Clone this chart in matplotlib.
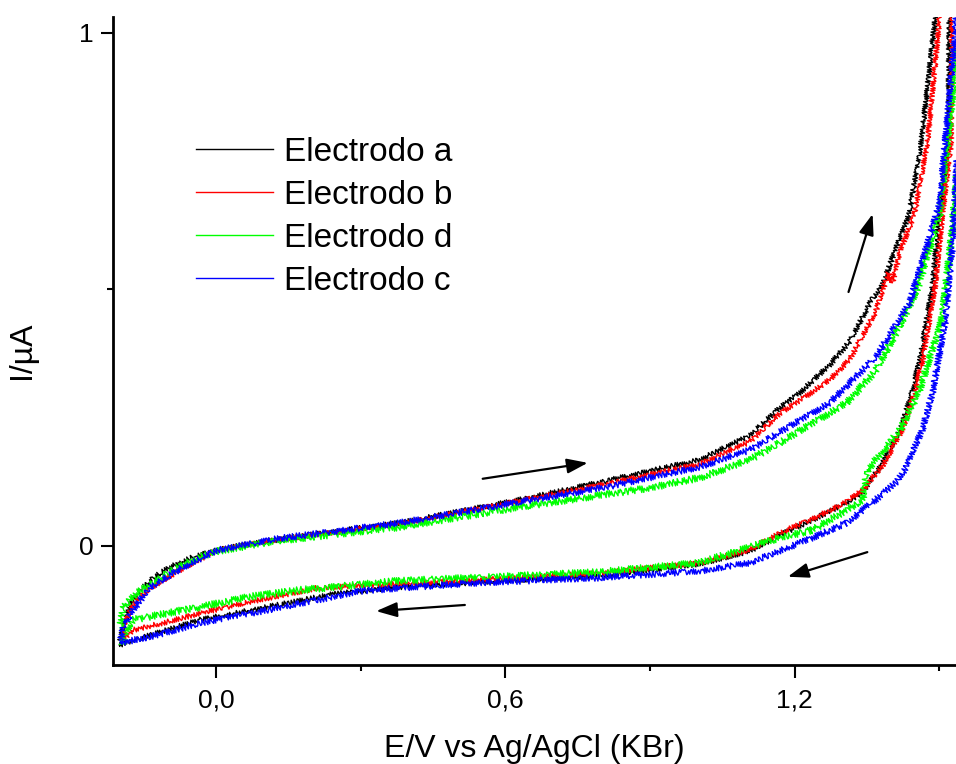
import numpy as np
import matplotlib
matplotlib.use("Agg")
import matplotlib.pyplot as plt
from matplotlib.lines import Line2D

plt.rcParams['font.family'] = ['Liberation Sans', 'DejaVu Sans']

# cyclic voltammograms: forward scan, vertex (off the top), reverse scan
E_a = [-0.201, -0.193, -0.178, -0.158, -0.131, -0.095, -0.048, 0.002, 0.056, 0.126, 0.189, 0.381,
       0.630, 0.810, 1.003, 1.107, 1.169, 1.210, 1.273, 1.314, 1.360, 1.382, 1.409, 1.438, 1.463,
       1.492, 1.56, 1.521, 1.519, 1.501, 1.486, 1.461, 1.443, 1.420, 1.382, 1.341, 1.308, 1.237,
       1.169, 1.107, 1.003, 0.796, 0.589, 0.381, 0.242, 0.106, -0.033, -0.137, -0.201]
I_a = [-0.193, -0.158, -0.115, -0.086, -0.062, -0.041, -0.021, -0.008, 0.002, 0.012, 0.021, 0.045,
       0.090, 0.127, 0.168, 0.215, 0.269, 0.298, 0.353, 0.398, 0.480, 0.507, 0.577, 0.647, 0.786,
       1.031, 1.5, 1.031, 0.786, 0.647, 0.507, 0.368, 0.298, 0.228, 0.160, 0.105, 0.084, 0.051,
       0.021, -0.010, -0.035, -0.058, -0.068, -0.080, -0.094, -0.119, -0.144, -0.174, -0.193]

E_b = [-0.195, -0.189, -0.172, -0.137, -0.068, 0.002, 0.126, 0.381, 0.630, 0.810, 1.003, 1.107,
       1.169, 1.210, 1.273, 1.314, 1.368, 1.395, 1.403, 1.420, 1.449, 1.476, 1.501, 1.56,
       1.527, 1.525, 1.507, 1.492, 1.467, 1.449, 1.424, 1.386, 1.341, 1.308, 1.237, 1.169, 1.107,
       1.003, 0.796, 0.589, 0.381, 0.209, 0.070, -0.033, -0.102, -0.172, -0.195]
I_b = [-0.183, -0.148, -0.115, -0.082, -0.043, -0.008, 0.012, 0.043, 0.088, 0.121, 0.160, 0.203,
       0.258, 0.283, 0.324, 0.363, 0.456, 0.532, 0.513, 0.577, 0.647, 0.786, 1.031, 1.5,
       1.031, 0.786, 0.647, 0.507, 0.368, 0.298, 0.228, 0.160, 0.109, 0.086, 0.053, 0.025, -0.008,
       -0.033, -0.053, -0.064, -0.074, -0.082, -0.109, -0.131, -0.148, -0.164, -0.183]

E_d = [-0.199, -0.193, -0.164, -0.102, -0.033, 0.002, 0.126, 0.381, 0.630, 0.761, 0.899, 1.003,
       1.107, 1.169, 1.308, 1.368, 1.424, 1.457, 1.501, 1.534, 1.57,
       1.546, 1.534, 1.523, 1.505, 1.457, 1.420, 1.397, 1.351, 1.341, 1.308, 1.237, 1.169, 1.003,
       0.796, 0.589, 0.381, 0.174, 0.070, -0.033, -0.102, -0.172, -0.189, -0.195]
I_d = [-0.160, -0.119, -0.092, -0.053, -0.021, -0.010, 0.010, 0.037, 0.076, 0.094, 0.113, 0.133,
       0.168, 0.201, 0.279, 0.341, 0.439, 0.507, 0.647, 0.926, 1.5,
       0.869, 0.688, 0.577, 0.439, 0.298, 0.228, 0.201, 0.148, 0.090, 0.070, 0.031, 0.016, -0.033,
       -0.051, -0.060, -0.068, -0.086, -0.099, -0.119, -0.131, -0.144, -0.168, -0.193]

E_c = [-0.199, -0.193, -0.172, -0.137, -0.068, 0.002, 0.126, 0.381, 0.630, 0.810, 1.003, 1.107,
       1.169, 1.273, 1.368, 1.438, 1.472, 1.501, 1.534, 1.56,
       1.538, 1.527, 1.513, 1.486, 1.465, 1.449, 1.432, 1.412, 1.376, 1.308, 1.237, 1.169, 1.107,
       1.003, 0.796, 0.589, 0.506, 0.381, 0.298, 0.242, 0.106, -0.033, -0.137, -0.199]
I_c = [-0.189, -0.158, -0.125, -0.080, -0.041, -0.008, 0.014, 0.045, 0.086, 0.115, 0.154, 0.187,
       0.222, 0.279, 0.368, 0.472, 0.577, 0.667, 1.008, 1.5,
       0.772, 0.577, 0.439, 0.298, 0.226, 0.193, 0.154, 0.125, 0.096, 0.045, 0.016, -0.010, -0.033,
       -0.049, -0.062, -0.070, -0.074, -0.082, -0.088, -0.099, -0.125, -0.150, -0.177, -0.189]

labels = ['Electrodo a', 'Electrodo b', 'Electrodo d', 'Electrodo c']
colors = ['black', 'red', '#00ff00', 'blue']
noise = [2.6, 2.6, 3.6, 3.2]

# scan direction arrows (tail, head)
arrows = [((1.312, 0.495), (1.362, 0.647)),
          ((0.553, 0.131), (0.771, 0.162)),
          ((1.351, -0.012), (1.186, -0.060)),
          ((0.516, -0.115), (0.332, -0.127))]

fig = plt.figure(figsize=(9.56, 7.64), dpi=100)
ax = fig.add_axes([113/956, 1-665/764, 843/956, 648/764])

series = [(E_a, I_a), (E_b, I_b), (E_d, I_d), (E_c, I_c)]
for (E, I), c, s in zip(series, colors, noise):
    ln, = ax.plot(E, I, color=c, lw=1.0)
    ln.set_sketch_params(scale=s, length=2.5, randomness=2)

for tail, head in arrows:
    ax.annotate('', xy=head, xytext=tail,
                arrowprops=dict(arrowstyle='-|>,head_length=0.7,head_width=0.25',
                                color='black', lw=1.6, mutation_scale=18,
                                shrinkA=0, shrinkB=0))

ax.set_xlim(-0.214, 1.535)
ax.set_ylim(-0.232, 1.031)

ax.spines['top'].set_visible(False)
ax.spines['right'].set_visible(False)
for sp in ['left', 'bottom']:
    ax.spines[sp].set_linewidth(2)

ax.set_xticks([0.0, 0.6, 1.2])
ax.set_xticklabels(['0,0', '0,6', '1,2'])
ax.set_xticks([0.3, 0.9, 1.5], minor=True)
ax.set_yticks([0, 1])
ax.set_yticklabels(['0', '1'])
ax.set_yticks([0.5], minor=True)
ax.tick_params(which='major', direction='out', length=9, width=1.5, labelsize=19)
ax.tick_params(axis='x', which='major', pad=8)
ax.tick_params(axis='y', which='major', pad=5)
ax.tick_params(which='minor', direction='out', length=4, width=1.5)

ax.set_xlabel('E/V vs Ag/AgCl (KBr)', fontsize=23)
ax.set_ylabel('I/µA', fontsize=23)
ax.xaxis.set_label_coords(0.5, -0.106)
ax.yaxis.set_label_coords(-0.090, 0.486)

handles = [Line2D([], [], color=c, lw=1.0) for c in colors]
ax.legend(handles, labels, loc='upper left', bbox_to_anchor=(0.0985, 0.815),
          frameon=False, fontsize=24, handlelength=2.3, handletextpad=0.35,
          labelspacing=0.36, borderpad=0, borderaxespad=0)

fig.savefig('out.png', dpi=100)
